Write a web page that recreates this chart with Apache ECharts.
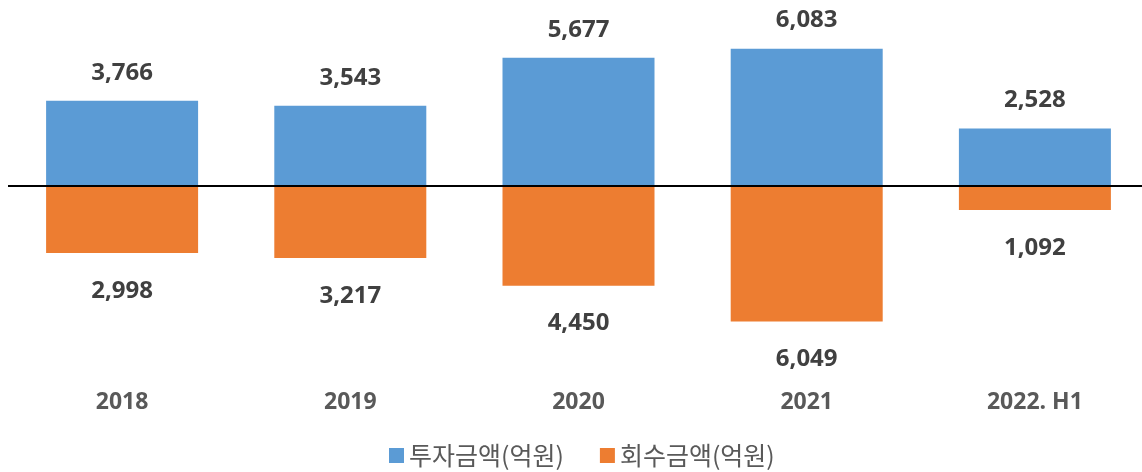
<!DOCTYPE html>
<html>
<head>
<meta charset="utf-8">
<script src="https://cdn.jsdelivr.net/npm/echarts@6/dist/echarts.min.js"></script>
<style>
    html, body { margin: 0; padding: 0; background: #fff; overflow: hidden; }
    /* 오른쪽 마지막 카테고리 폭이 화면 밖으로 조금 나감 */
    #chart { width: 1149px; height: 472px; }
</style>
</head>
<body>
<div id="chart"></div>
<script>
    // 연도 구분
    const years = ['2018', '2019', '2020', '2021', '2022. H1'];
    // 투자금액 (억원)
    const investValues = [3766, 3543, 5677, 6083, 2528];
    // 회수금액 (억원) - 아래쪽으로 그림
    const recoveryValues = [2998, 3217, 4450, 6049, 1092];

    const fontFamily = '"Open Sans", "Noto Sans CJK KR", sans-serif';
    const fmt = function (p) {
        return Math.abs(p.value).toLocaleString('en-US');
    };

    const chart = echarts.init(document.getElementById('chart'));
    chart.setOption({
        animation: false,
        grid: { left: 8, right: 0, top: 28, bottom: 129 },
        legend: {
            top: 438,
            left: 384,
            icon: 'rect',
            itemWidth: 15,
            itemHeight: 15,
            itemGap: 36,
            textStyle: { fontFamily: '"Noto Sans CJK KR", sans-serif', fontSize: 25, color: '#595959' },
            data: ['투자금액(억원)', '회수금액(억원)']
        },
        xAxis: {
            type: 'category',
            data: years,
            axisLine: { show: false },
            axisTick: { show: false },
            axisLabel: {
                margin: 48,
                fontFamily: fontFamily,
                fontSize: 23,
                fontWeight: 'bold',
                color: '#595959'
            }
        },
        yAxis: {
            type: 'value',
            min: -7000,
            max: 7000,
            show: false,
            splitLine: { show: false }
        },
        series: [
            {
                name: '투자금액(억원)',
                type: 'bar',
                stack: 'total',
                barWidth: 152,
                data: investValues,
                itemStyle: { color: '#5B9BD5' },
                label: {
                    show: true,
                    position: 'top',
                    distance: 16,
                    formatter: fmt,
                    fontFamily: fontFamily,
                    fontSize: 24,
                    fontWeight: 'bold',
                    color: '#404040'
                },
                markLine: {
                    silent: true,
                    symbol: 'none',
                    label: { show: false },
                    lineStyle: { color: '#000', width: 2, type: 'solid' },
                    data: [{ yAxis: 0 }]
                },
                z: 2
            },
            {
                name: '회수금액(억원)',
                type: 'bar',
                stack: 'total',
                barWidth: 152,
                data: recoveryValues.map(function (v) { return -v; }),
                itemStyle: { color: '#ED7D31' },
                label: {
                    show: true,
                    position: 'bottom',
                    distance: 26,
                    formatter: fmt,
                    fontFamily: fontFamily,
                    fontSize: 24,
                    fontWeight: 'bold',
                    color: '#404040'
                },
                z: 2
            }
        ]
    });
</script>
</body>
</html>
